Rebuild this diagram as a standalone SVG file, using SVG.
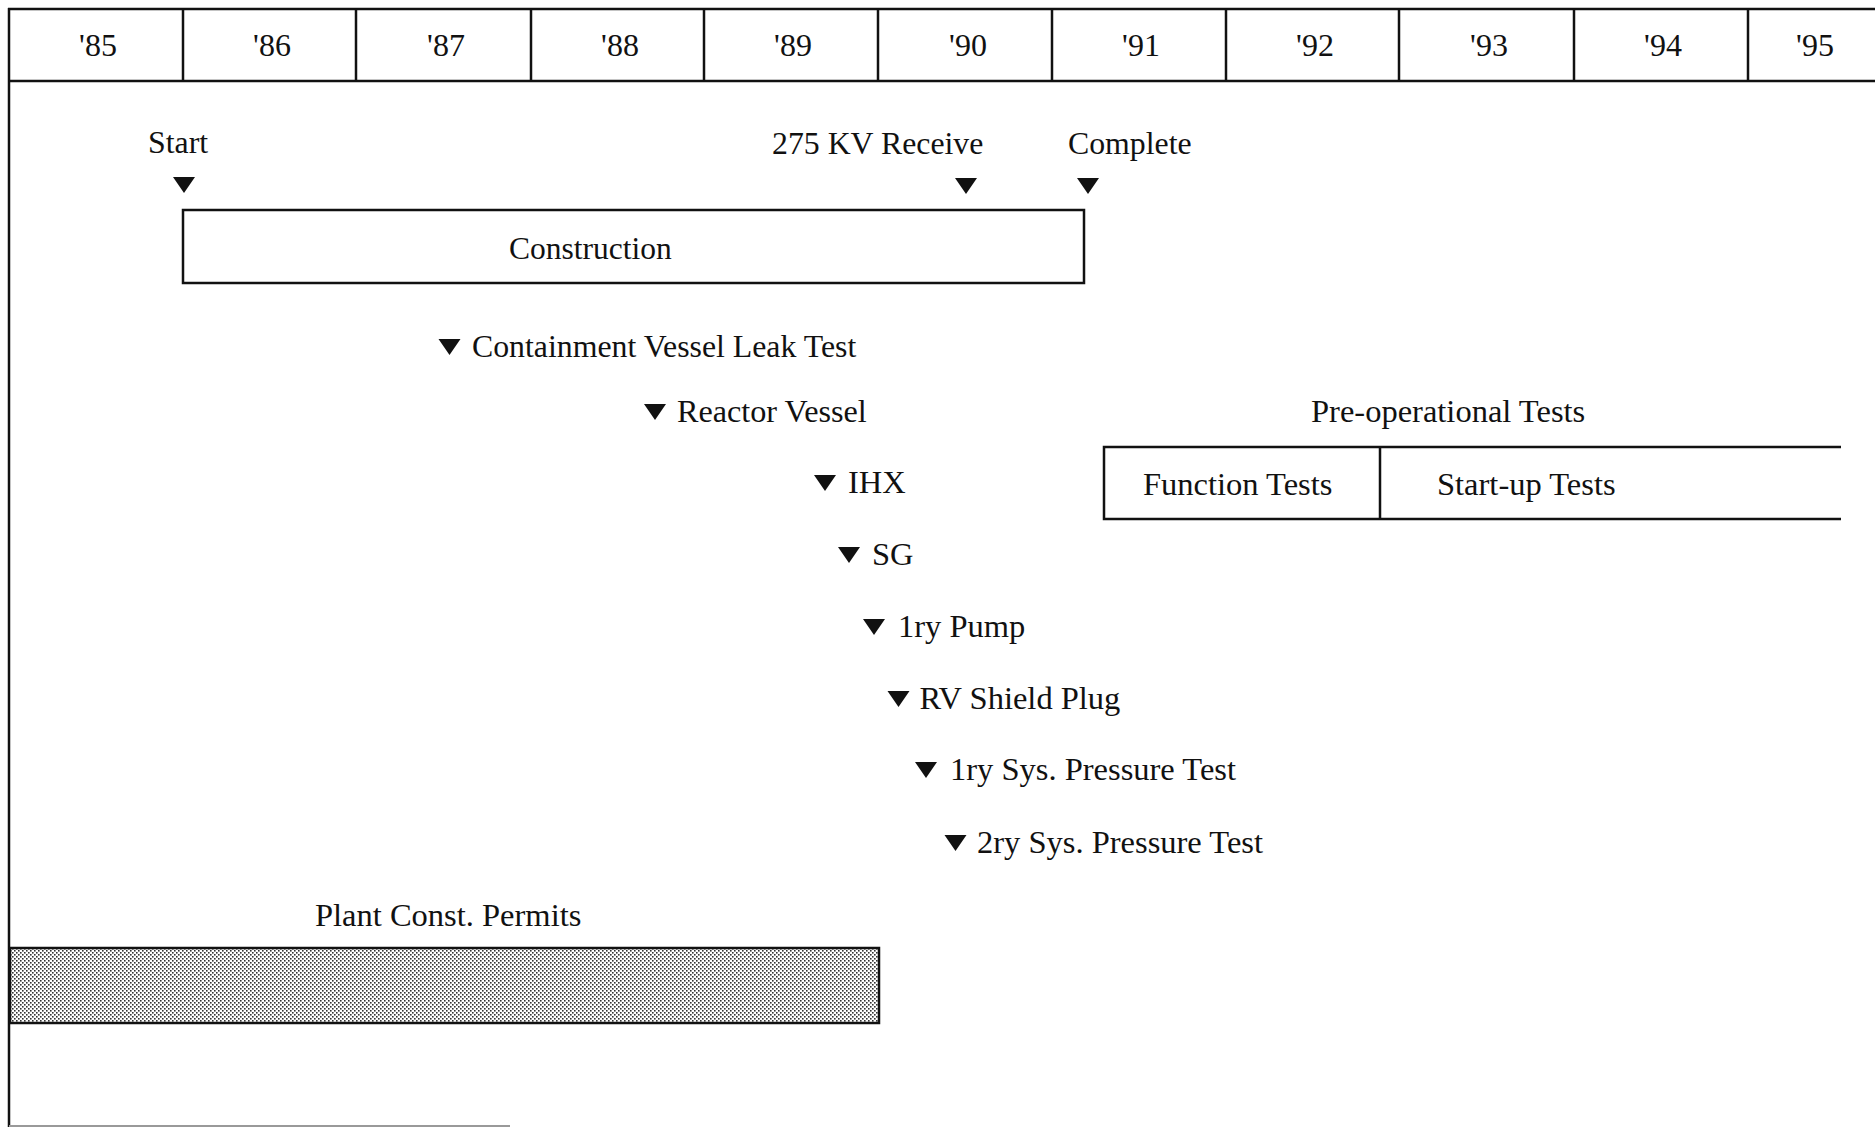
<svg xmlns="http://www.w3.org/2000/svg" width="1875" height="1127" viewBox="0 0 1875 1127">
<style>
  text { font-family: "Liberation Serif", "Times New Roman", serif; font-size: 32.5px; fill: #111; }
  .yr { text-anchor: middle; font-size: 32px; }
  .sm { font-size: 31.8px; }
  .ln { stroke: #111; stroke-width: 2.5; fill: none; }
  .box { stroke: #111; stroke-width: 2.5; fill: #fff; }
  .tri { fill: #111; }
</style>
<defs>
  <path id="tri" class="tri" d="M-11,0 L11,0 L0,16 Z"/>
  <pattern id="dots" width="4" height="4" patternUnits="userSpaceOnUse">
    <rect width="4" height="4" fill="#fff"/>
    <rect x="0" y="0" width="1.6" height="1.6" fill="#333"/>
    <rect x="2" y="2" width="1.6" height="1.6" fill="#333"/>
  </pattern>
</defs>
<rect width="1875" height="1127" fill="#fff"/>

<g id="timeline">
  <line class="ln" x1="8" y1="9" x2="1875" y2="9"/>
  <line class="ln" x1="8" y1="81" x2="1875" y2="81"/>
  <line class="ln" x1="9" y1="8" x2="9" y2="1127"/>
  <line class="ln" x1="183" y1="9" x2="183" y2="81"/>
  <line class="ln" x1="356" y1="9" x2="356" y2="81"/>
  <line class="ln" x1="531" y1="9" x2="531" y2="81"/>
  <line class="ln" x1="704" y1="9" x2="704" y2="81"/>
  <line class="ln" x1="878" y1="9" x2="878" y2="81"/>
  <line class="ln" x1="1052" y1="9" x2="1052" y2="81"/>
  <line class="ln" x1="1226" y1="9" x2="1226" y2="81"/>
  <line class="ln" x1="1399" y1="9" x2="1399" y2="81"/>
  <line class="ln" x1="1574" y1="9" x2="1574" y2="81"/>
  <line class="ln" x1="1748" y1="9" x2="1748" y2="81"/>
  <text class="yr" x="98" y="56">'85</text>
  <text class="yr" x="272" y="56">'86</text>
  <text class="yr" x="446" y="56">'87</text>
  <text class="yr" x="620" y="56">'88</text>
  <text class="yr" x="793" y="56">'89</text>
  <text class="yr" x="968" y="56">'90</text>
  <text class="yr" x="1141" y="56">'91</text>
  <text class="yr" x="1315" y="56">'92</text>
  <text class="yr" x="1489" y="56">'93</text>
  <text class="yr" x="1663" y="56">'94</text>
  <text class="yr" x="1815" y="56">'95</text>
  <line x1="9" y1="1126" x2="510" y2="1126" stroke="#999" stroke-width="2"/>
</g>

<g id="milestone-start">
  <text class="sm" x="148" y="153">Start</text>
  <use href="#tri" x="184" y="177"/>
</g>
<g id="milestone-275kv">
  <text class="sm" x="772" y="154">275 KV Receive</text>
  <use href="#tri" x="966" y="178"/>
</g>
<g id="milestone-complete">
  <text class="sm" x="1068" y="154">Complete</text>
  <use href="#tri" x="1088" y="178"/>
</g>

<g id="construction">
  <rect class="box" x="183" y="210" width="901" height="73"/>
  <text x="509" y="259" style="font-size:31.5px">Construction</text>
</g>

<g id="ms-cv-leak">
  <use href="#tri" x="449.5" y="339"/>
  <text class="sm" x="472" y="357">Containment Vessel Leak Test</text>
</g>
<g id="ms-reactor-vessel">
  <use href="#tri" x="655" y="404"/>
  <text x="677" y="422" style="font-size:32.2px">Reactor Vessel</text>
</g>
<g id="ms-ihx">
  <use href="#tri" x="825" y="475"/>
  <text x="848" y="493">IHX</text>
</g>
<g id="ms-sg">
  <use href="#tri" x="849" y="547"/>
  <text x="872" y="565">SG</text>
</g>
<g id="ms-1ry-pump">
  <use href="#tri" x="874" y="619"/>
  <text x="898" y="637">1ry Pump</text>
</g>
<g id="ms-rv-shield">
  <use href="#tri" x="898.5" y="691"/>
  <text x="919.5" y="709">RV Shield Plug</text>
</g>
<g id="ms-1ry-sys">
  <use href="#tri" x="926" y="762"/>
  <text x="950" y="780">1ry Sys. Pressure Test</text>
</g>
<g id="ms-2ry-sys">
  <use href="#tri" x="955.5" y="835"/>
  <text x="977" y="853">2ry Sys. Pressure Test</text>
</g>

<g id="pre-operational">
  <text x="1311" y="422">Pre-operational Tests</text>
  <path class="ln" d="M1841,447 L1104,447 L1104,519 L1841,519 M1380,447 L1380,519"/>
  <text x="1143" y="495">Function Tests</text>
  <text x="1437" y="495">Start-up Tests</text>
</g>

<g id="permits">
  <text x="315" y="926">Plant Const. Permits</text>
  <rect x="10" y="948" width="869" height="75" fill="url(#dots)" stroke="#111" stroke-width="2.5"/>
</g>
</svg>
